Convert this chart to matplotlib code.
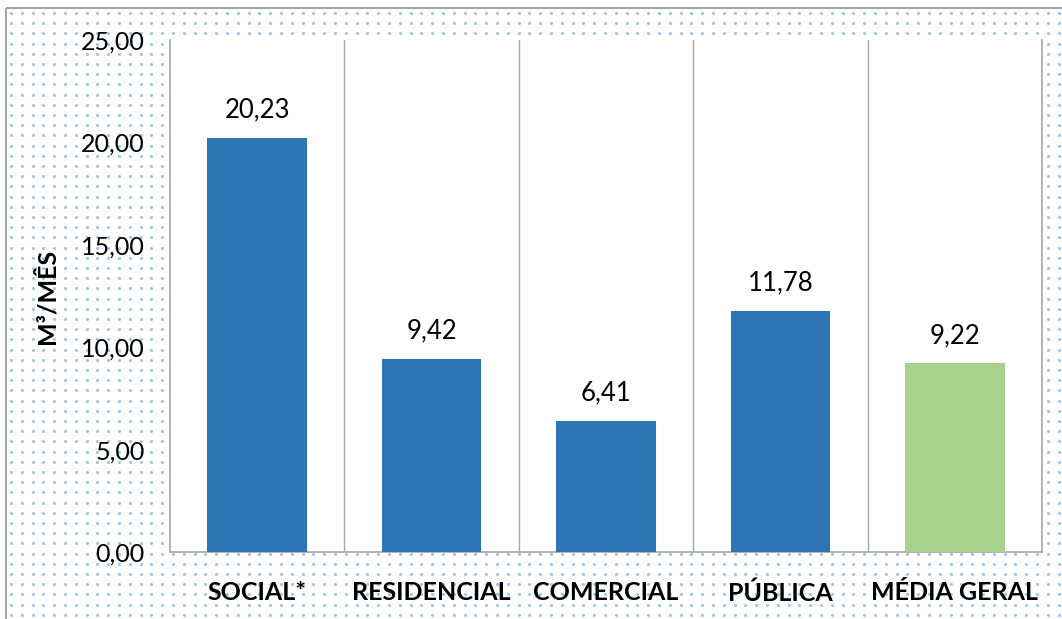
import numpy as np
import matplotlib
matplotlib.use("Agg")
import matplotlib.pyplot as plt
from matplotlib.patches import Rectangle

# -------- DATA --------
categories = ["SOCIAL*", "RESIDENCIAL", "COMERCIAL", "PÚBLICA", "MÉDIA GERAL"]
values = [20.23, 9.42, 6.41, 11.78, 9.22]
colors = ["#2E75B6", "#2E75B6", "#2E75B6", "#2E75B6", "#A9D18E"]
yticks = [0, 5, 10, 15, 20, 25]

plt.rcParams['font.family'] = ['Lato', 'DejaVu Sans']

W, H = 1062, 619
fig = plt.figure(figsize=(W / 100, H / 100), dpi=100)

# -------- DOTTED BACKGROUND --------
bg = fig.add_axes([0, 0, 1, 1])
bg.set_xlim(0, W)
bg.set_ylim(H, 0)
bg.axis("off")
xs = np.arange(11, W, 10.8)
ys = np.arange(13, H, 10.2)
gx, gy = np.meshgrid(xs, ys)
bg.scatter(gx.ravel(), gy.ravel(), s=5, color="#8DBBE8", alpha=0.85, linewidths=0)
bg.add_patch(Rectangle((6, 8), W + 10, H, fill=False, edgecolor="#A6A6A6", lw=1.5))

# -------- BARS --------
left, right, top, bottom = 170, 1042, 40, 552
ax = fig.add_axes([left / W, 1 - bottom / H, (right - left) / W, (bottom - top) / H])
ax.set_facecolor("white")
x = np.arange(len(categories))
ax.bar(x, values, width=0.57, color=colors, zorder=3)
for xi, v in zip(x, values):
    ax.text(xi, v + 0.75, f"{v:.2f}".replace(".", ","), ha="center", va="bottom", fontsize=18.5)

ax.set_xlim(-0.5, len(categories) - 0.5)
ax.set_ylim(0, 25)
ax.set_yticks(yticks)
ax.set_yticklabels([f"{t:.2f}".replace(".", ",") for t in yticks], fontsize=18)
ax.set_xticks(x)
ax.set_xticklabels(categories, fontsize=18, fontweight="bold")
for xv in np.arange(0.5, len(categories) - 0.5, 1):
    ax.axvline(xv, color="#A6A6A6", lw=1, zorder=1)
ax.tick_params(axis="both", length=0)
ax.tick_params(axis="x", pad=21)
ax.tick_params(axis="y", pad=18)
for s in ax.spines.values():
    s.set_color("#A6A6A6")
    s.set_linewidth(1.2)
ax.spines["top"].set_visible(False)
ax.set_ylabel("M³/MÊS", fontsize=18, fontweight="bold", labelpad=16)

fig.savefig("out.png", dpi=100)
